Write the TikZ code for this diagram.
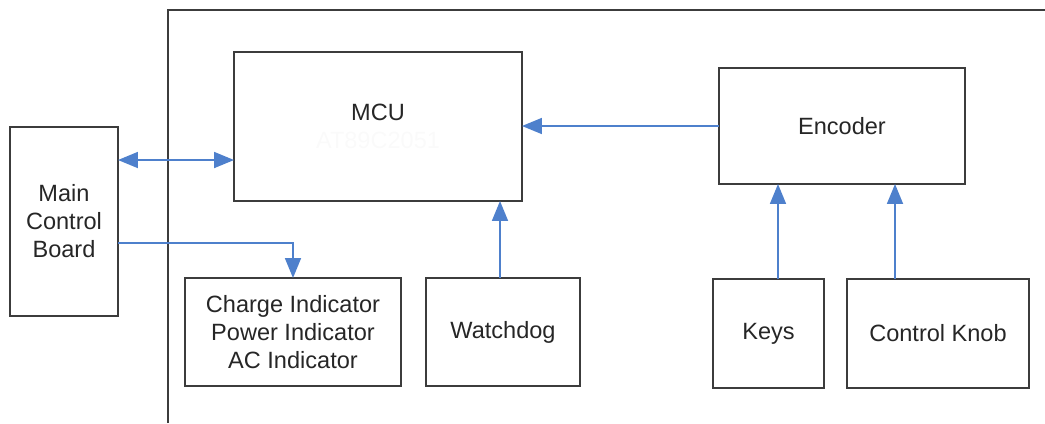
\documentclass[tikz,border=0pt]{standalone}
\usepackage{fontspec}
\setmainfont{Liberation Sans}
\usetikzlibrary{arrows.meta}
\definecolor{linkblue}{RGB}{78,128,204}
\definecolor{boxgray}{RGB}{60,60,60}
\tikzset{
	blk/.style={draw=boxgray,line width=1.1pt,inner sep=0pt,outer sep=0pt,align=center,text=black!85,font=\fontsize{13.4}{15.9}\selectfont},
	link/.style={draw=linkblue,line width=1pt,>={Triangle[width=0.32cm,length=0.4cm,fill=linkblue]},->},
	frame/.style={draw=boxgray,line width=1.1pt}
}
\begin{document}
\begin{tikzpicture}[x=0.02cm,y=-0.02cm]
			\useasboundingbox (0,0) rectangle (1045,423);
			\draw [frame] (168,423) -- (168,10) -- (1045,10);
			
			\node [blk,minimum width=5.76cm,minimum height=2.98cm] (mcu) at (378,126.5) {MCU\\{\color{black!2}AT89C2051}};
			\node [blk,minimum width=2.16cm,minimum height=3.78cm] (mcb) at (64,221.5) {Main\\Control\\Board};
			\node [blk,minimum width=4.32cm,minimum height=2.16cm] (ind) at (293,332) {Charge Indicator\\Power Indicator\\AC Indicator};
			\node [blk,minimum width=3.08cm,minimum height=2.16cm] (wdog) at (503,332) {Watchdog};
			\node [blk,minimum width=4.92cm,minimum height=2.32cm] (enc) at (842,126) {Encoder};
			\node [blk,minimum width=2.22cm,minimum height=2.18cm] (keys) at (768.5,333.5) {Keys};
			\node [blk,minimum width=3.64cm,minimum height=2.18cm] (knob) at (938,333.5) {Control Knob};
			
			\draw [link,<->] ([yshift=1.23cm]mcb.east) -- ([yshift=1.23cm]mcb.east -| mcu.west);
			\draw [link] ([yshift=-0.43cm]mcb.east) -| (ind.north);
			\draw [link] ([xshift=-0.06cm]wdog.north) -- ([xshift=-0.06cm]wdog.north |- mcu.south);
			\draw [link] (enc.west) -- (enc.west -| mcu.east);
			\draw [link] ([xshift=0.19cm]keys.north) -- ([xshift=0.19cm]keys.north |- enc.south);
			\draw [link] ([xshift=-0.86cm]knob.north) -- ([xshift=-0.86cm]knob.north |- enc.south);
			\end{tikzpicture}
\end{document}
